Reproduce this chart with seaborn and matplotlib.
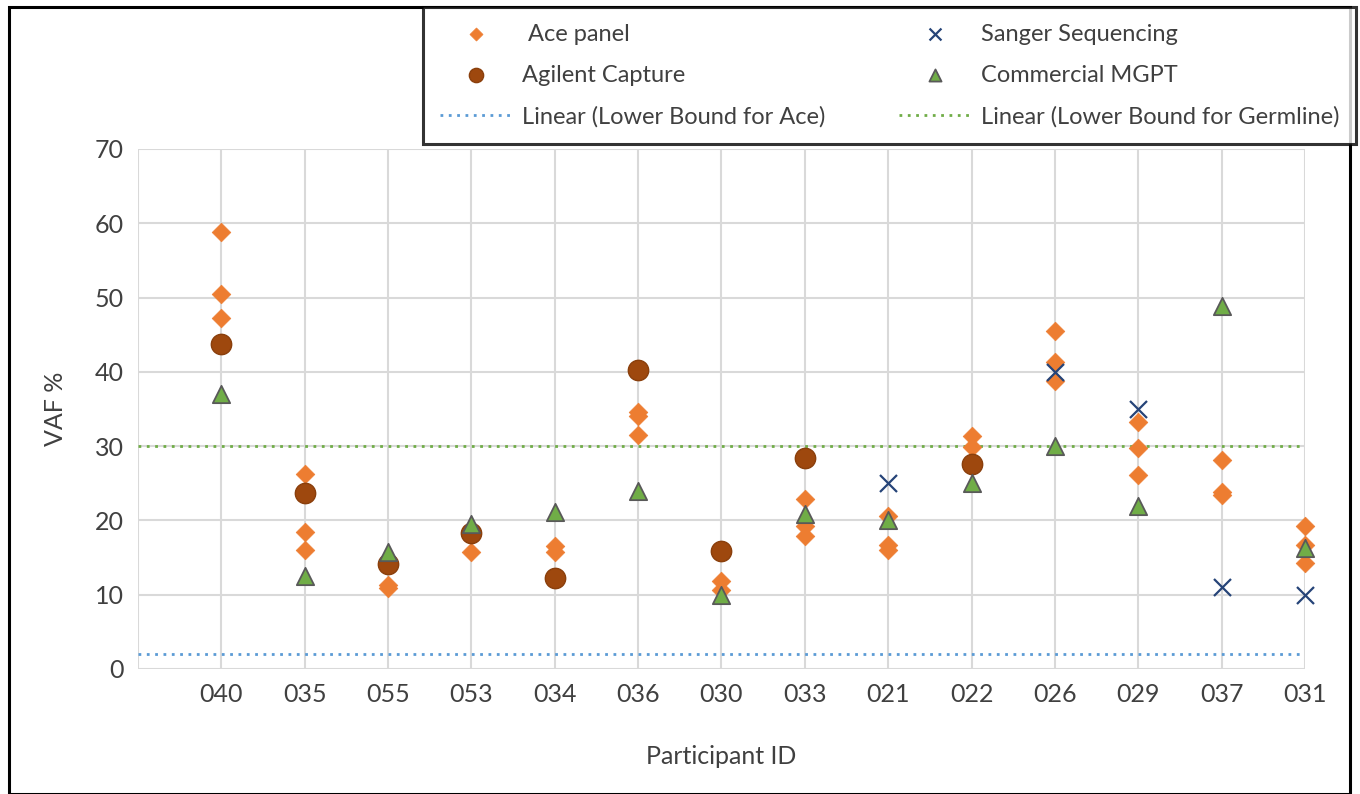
import matplotlib
matplotlib.use("Agg")
import matplotlib.pyplot as plt
import seaborn as sns
import pandas as pd
from matplotlib.patches import Rectangle

participant_ids = ["040", "035", "055", "053", "034", "036", "030",
                   "033", "021", "022", "026", "029", "037", "031"]

ace_ids = ["040", "040", "040", "035", "035", "035", "055", "055", "053",
           "034", "034", "036", "036", "036", "030", "030", "033", "033", "033",
           "021", "021", "021", "022", "022", "026", "026", "026",
           "029", "029", "029", "037", "037", "037", "031", "031", "031"]
ace_vaf = [58.8, 50.5, 47.3, 26.2, 18.5, 16.0, 11.3, 10.9, 15.8,
           16.5, 15.7, 34.6, 34.0, 31.5, 11.9, 10.6, 22.9, 19.2, 17.9,
           20.6, 16.7, 16.0, 31.3, 29.9, 45.5, 41.3, 38.8,
           33.2, 29.8, 26.1, 28.1, 23.8, 23.4, 19.2, 16.7, 14.3]

agilent_ids = ["040", "035", "055", "053", "034", "036", "030", "033", "022"]
agilent_vaf = [43.7, 23.7, 14.1, 18.3, 12.3, 40.2, 15.9, 28.4, 27.6]

sanger_ids = ["021", "026", "029", "037", "031"]
sanger_vaf = [25.0, 40.0, 35.0, 11.0, 10.0]

mgpt_ids = participant_ids
mgpt_vaf = [37.0, 12.5, 15.8, 19.5, 21.2, 24.0, 10.0,
            20.8, 20.0, 25.0, 30.0, 22.0, 48.8, 16.3]

ace_lower_bound = 2
germline_lower_bound = 30


def to_frame(ids, vafs):
    pos = [participant_ids.index(i) + 1 for i in ids]
    return pd.DataFrame({"pos": pos, "vaf": vafs})


sns.set_theme(style="white")
plt.rcParams["font.family"] = ["Lato", "DejaVu Sans"]

fig = plt.figure(figsize=(13.6, 7.94), dpi=100)
ax = fig.add_axes([138 / 1360, 125 / 794, (1305 - 138) / 1360, (669 - 149) / 794])

text_col = "#404040"
grid_col = "#D9D9D9"

ax.axhline(ace_lower_bound, color="#5B9BD5", lw=2, ls=(0, (1, 2)),
           label="Linear (Lower Bound for Ace)", zorder=2)
ax.axhline(germline_lower_bound, color="#70AD47", lw=2, ls=(0, (1, 2)),
           label="Linear (Lower Bound for Germline)", zorder=2)

sns.scatterplot(data=to_frame(ace_ids, ace_vaf), x="pos", y="vaf", ax=ax,
                marker="D", s=90, color="#ED7D31", edgecolor="#ED7D31",
                linewidth=0.5, label=" Ace panel", zorder=3, clip_on=False)
sns.scatterplot(data=to_frame(agilent_ids, agilent_vaf), x="pos", y="vaf", ax=ax,
                marker="o", s=215, color="#9E480E", edgecolor="#8A3F0C",
                linewidth=1, label="Agilent Capture", zorder=4, clip_on=False)
sns.scatterplot(data=to_frame(sanger_ids, sanger_vaf), x="pos", y="vaf", ax=ax,
                marker="x", s=150, color="#264478", linewidth=1.6,
                label="Sanger Sequencing", zorder=5, clip_on=False)
sns.scatterplot(data=to_frame(mgpt_ids, mgpt_vaf), x="pos", y="vaf", ax=ax,
                marker="^", s=155, color="#70AD47", edgecolor="#595959",
                linewidth=1.3, label="Commercial MGPT", zorder=6, clip_on=False)

ax.set_xlim(0, 14)
ax.set_ylim(0, 70)
ax.set_xticks(range(0, 15))
ax.set_xticklabels([""] + participant_ids)
ax.set_yticks(range(0, 71, 10))
ax.grid(True, color=grid_col, lw=1.5)
ax.set_axisbelow(True)
for sp in ax.spines.values():
    sp.set_visible(False)
ax.tick_params(axis="both", length=0, labelsize=18, labelcolor=text_col, pad=10)
ax.set_xlabel("Participant ID", fontsize=18, color=text_col, labelpad=28)
ax.set_ylabel("VAF %", fontsize=18, color=text_col, labelpad=20)

handles, labels = ax.get_legend_handles_labels()
lookup = dict(zip(labels, handles))
order = [" Ace panel", "Agilent Capture", "Linear (Lower Bound for Ace)",
         "Sanger Sequencing", "Commercial MGPT", "Linear (Lower Bound for Germline)"]
if ax.get_legend():
    ax.get_legend().remove()
leg = fig.legend([lookup[k] for k in order], order, loc="upper left",
                 bbox_to_anchor=(423 / 1360, 1 - 7 / 794), ncol=2,
                 fontsize=17, frameon=True, fancybox=False, edgecolor="black",
                 handlelength=3.1, handletextpad=0.4, columnspacing=3.1,
                 labelspacing=0.85, borderpad=0.7, markerscale=0.7,
                 borderaxespad=0)
leg.get_frame().set_linewidth(2.2)
for t in leg.get_texts():
    t.set_color(text_col)
leg.set_zorder(10)

fig.patches.append(Rectangle((9 / 1360, 0), (1350 - 9) / 1360, 1 - 7 / 794,
                             transform=fig.transFigure, fill=False,
                             edgecolor="black", lw=2.2, zorder=0))

fig.savefig("out.png", dpi=100)
